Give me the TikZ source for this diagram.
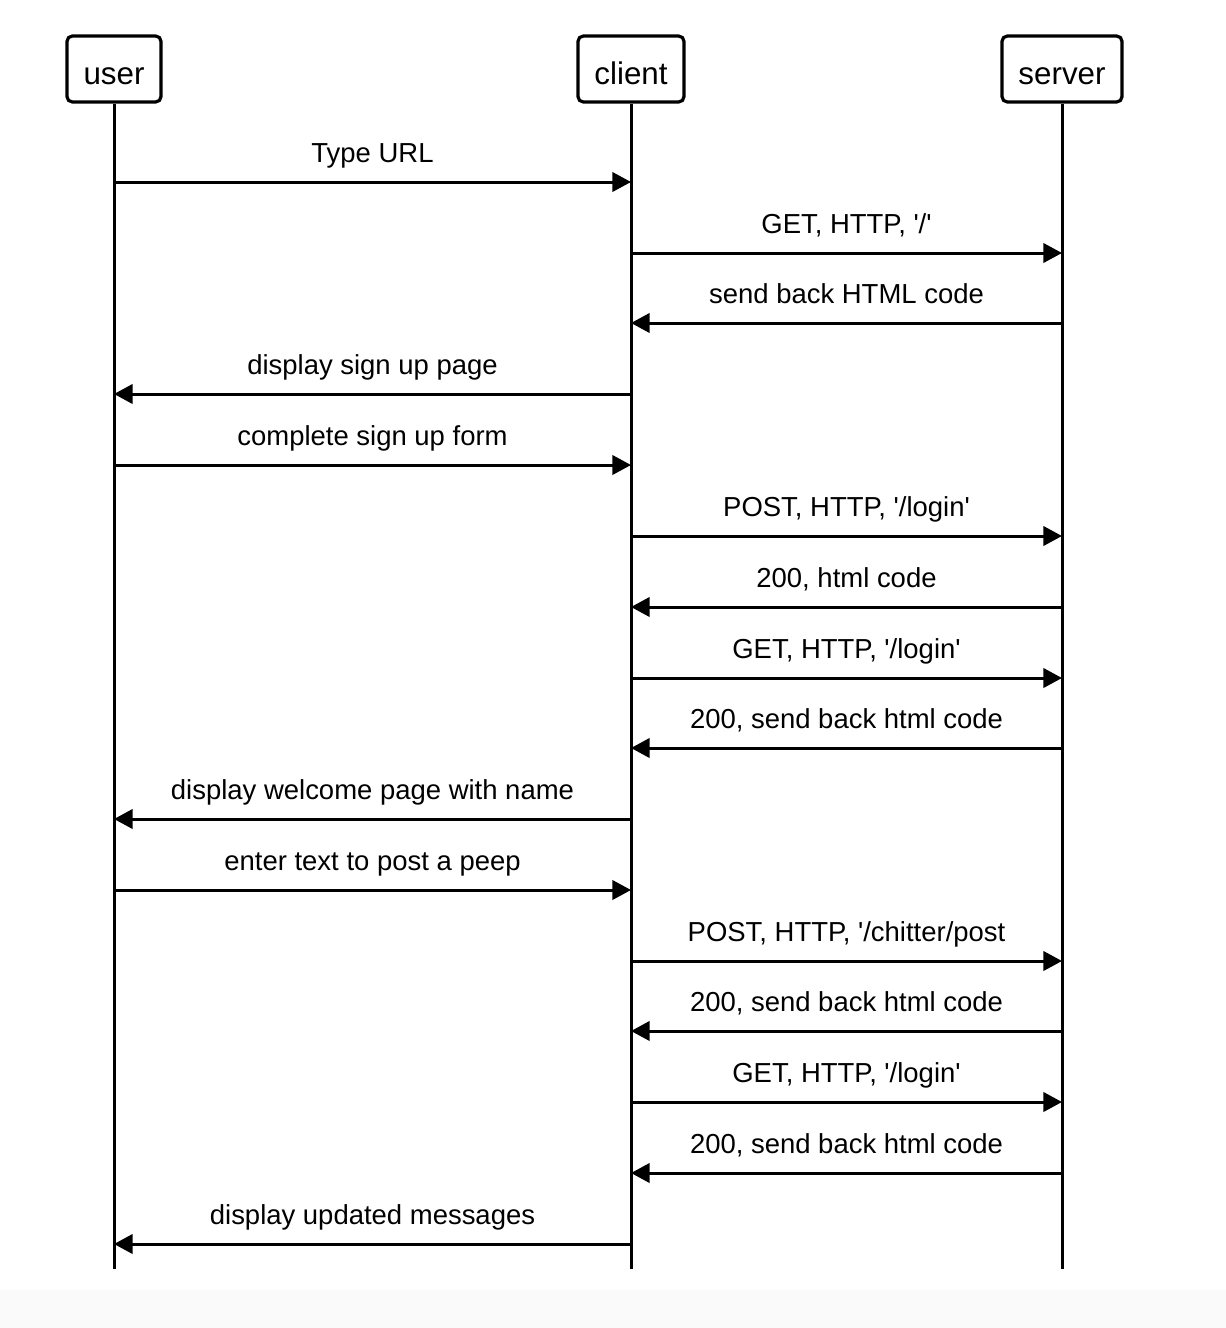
\documentclass[tikz,border=0pt]{standalone}
\usepackage{fontspec}
\setmainfont{Liberation Sans}
\usetikzlibrary{arrows.meta,calc}
\begin{document}
\begin{tikzpicture}[x=0.75pt,y=-0.75pt,
  actor/.style={draw,line width=2.4pt,rounded corners=4pt,fill=white,font=\fontsize{23.5}{26}\selectfont,inner sep=0pt,text height=22.5pt,text depth=0pt},
  life/.style={line width=2.25pt},
  msg/.style={line width=2.25pt,-{Triangle[length=14pt,width=14.5pt]}},
  lbl/.style={font=\fontsize{20.6}{24}\selectfont,anchor=base}]
\useasboundingbox (0,0) rectangle (1226,1328);
\fill[black!2] (0,1290) rectangle (1226,1328);
% actors
\node[actor,minimum width=70.5pt,minimum height=49.5pt] (user) at (114,69) {user};
\node[actor,minimum width=79.5pt,minimum height=49.5pt] (client) at (631,69) {client};
\node[actor,minimum width=90pt,minimum height=49.5pt] (server) at (1062,69) {server};
\coordinate (ue) at (114,1269);
\coordinate (ce) at (631,1269);
\coordinate (se) at (1062,1269);
\draw[life] (user) -- (ue);
\draw[life] (client) -- (ce);
\draw[life] (server) -- (se);
% messages
\foreach \y/\f/\t/\txt in {
 182/u/c/{Type URL},
 253/c/s/{GET, HTTP, \textquotesingle/\textquotesingle},
 323/s/c/{send back HTML code},
 394/c/u/{display sign up page},
 465/u/c/{complete sign up form},
 536/c/s/{POST, HTTP, \textquotesingle/login\textquotesingle},
 607/s/c/{200, html code},
 678/c/s/{GET, HTTP, \textquotesingle/login\textquotesingle},
 748/s/c/{200, send back html code},
 819/c/u/{display welcome page with name},
 890/u/c/{enter text to post a peep},
 961/c/s/{POST, HTTP, \textquotesingle/chitter/post},
 1031/s/c/{200, send back html code},
 1102/c/s/{GET, HTTP, \textquotesingle/login\textquotesingle},
 1173/s/c/{200, send back html code},
 1244/c/u/{display updated messages}}{
  \coordinate (a\y) at (\f e |- 0,\y);
  \coordinate (b\y) at (\t e |- 0,\y);
  \draw[msg] (a\y) -- (b\y);
  \node[lbl] (l\y) at ($ (a\y)!0.5!(b\y) + (0,-19.5) $) {\txt};
}
\end{tikzpicture}
\end{document}
